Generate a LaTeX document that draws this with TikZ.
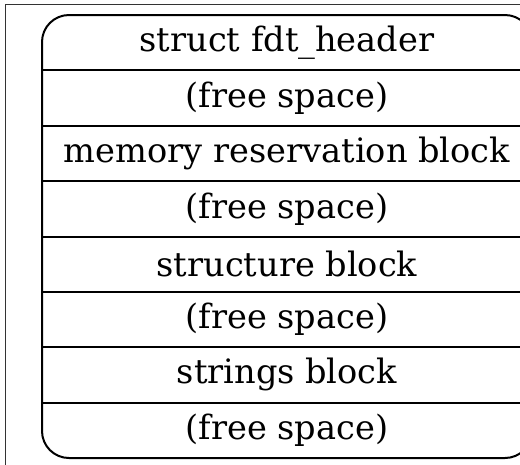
\documentclass[tikz,border=0pt]{standalone}
\usepackage{fontspec}
\setmainfont{DejaVu Serif}
\usetikzlibrary{positioning}

\begin{document}
\begin{tikzpicture}[x=1pt, y=-1pt, font=\fontsize{33.6}{38}\selectfont,
  field/.style={minimum width=490pt, minimum height=55.375pt, inner sep=0pt, outer sep=0pt, anchor=center}
]
  \useasboundingbox (0,0) rectangle (520,465);
  \clip (0,0) rectangle (520,465);
  % Frame
  \draw[line width=0.8pt, black!80] (5,465) -- (5,4) -- (520,4);
  % Fields of the blob
  \node[field] (hdr) at (287,42.7) {struct fdt\_header};
  \node[field, below=0pt of hdr] (free1) {(free space)};
  \node[field, below=0pt of free1] (rsv) {memory reservation block};
  \node[field, below=0pt of rsv] (free2) {(free space)};
  \node[field, below=0pt of free2] (strct) {structure block};
  \node[field, below=0pt of strct] (free3) {(free space)};
  \node[field, below=0pt of free3] (strs) {strings block};
  \node[field, below=0pt of strs] (free4) {(free space)};
  % Outline and separators
  \draw[line width=2pt, rounded corners=27pt] (hdr.north west) rectangle (free4.south east);
  \foreach \f in {hdr, free1, rsv, free2, strct, free3, strs} {
    \draw[line width=2pt] (\f.south west) -- (\f.south east);
  }
\end{tikzpicture}
\end{document}
